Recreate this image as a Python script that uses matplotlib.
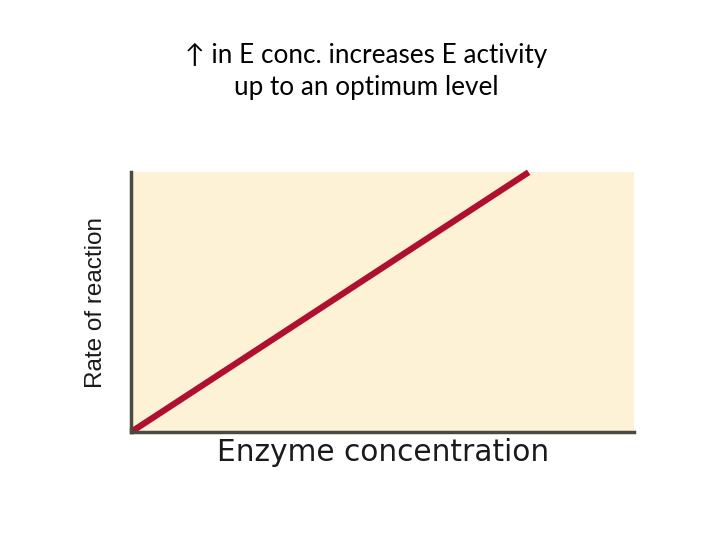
import matplotlib
matplotlib.use("Agg")
import matplotlib.pyplot as plt

# enzyme concentration vs rate of reaction (arbitrary units)
enzyme = [0.0, 7.9]
rate = [0.0, 10.0]

title_lines = ["\u2191 in E conc. increases E activity", "up to an optimum level"]

fig = plt.figure(figsize=(7.2, 5.4), dpi=100)
ax = fig.add_axes([0.182, 0.2, 0.699, 0.481])
ax.set_facecolor("#fdf2d6")
ax.plot(enzyme, rate, color="#b01030", lw=4.5, solid_capstyle="butt", clip_on=False)
ax.set_xlim(0, 10)
ax.set_ylim(0, 10)
ax.set_xticks([])
ax.set_yticks([])
for s in ["top", "right"]:
    ax.spines[s].set_visible(False)
for s in ["left", "bottom"]:
    ax.spines[s].set_color("#4a4a42")
    ax.spines[s].set_linewidth(2.5)

ax.set_xlabel("Enzyme concentration", fontsize=21.3, family="DejaVu Sans",
              color="#1a1a1a", labelpad=4)
ax.set_ylabel("Rate of reaction", fontsize=17.5, family="Liberation Sans",
              color="#1a1a1a", labelpad=17)

fig.text(0.508, 0.897, title_lines[0], ha="center", va="center", fontsize=18.8,
         family=["Lato", "DejaVu Sans"])
fig.text(0.508, 0.838, title_lines[1], ha="center", va="center", fontsize=18.8,
         family=["Lato", "DejaVu Sans"])

fig.savefig("out.png", dpi=100)
